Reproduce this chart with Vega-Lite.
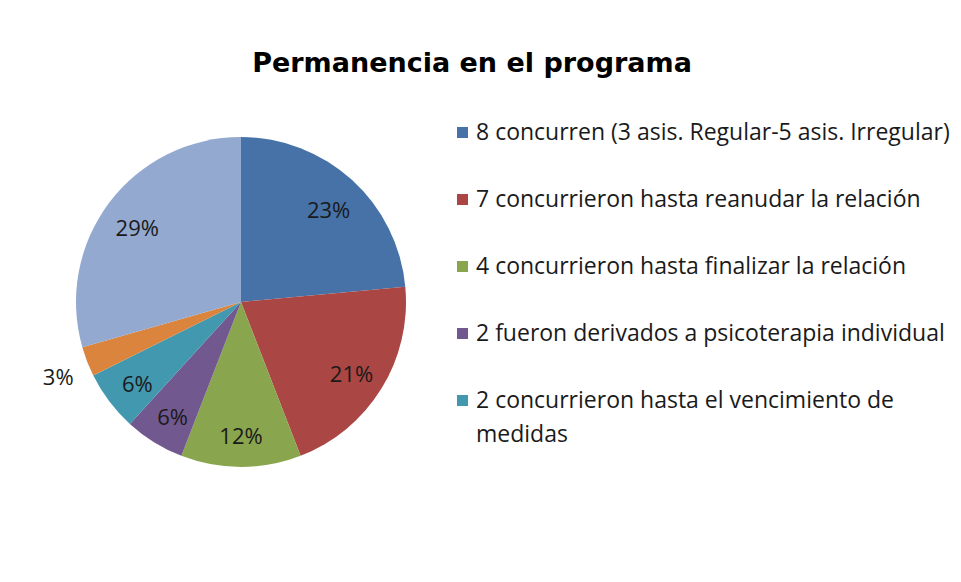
{
  "$schema": "https://vega.github.io/schema/vega-lite/v6.json",
  "autosize": {"type": "none"},
  "padding": {"left": 76, "top": 137, "right": 555, "bottom": 115},
  "width": 330,
  "height": 330,
  "background": "white",
  "config": {
    "view": {"stroke": null},
    "style": {"guide-label": {"lineHeight": 34}}
  },
  "title": {
    "text": "Permanencia en el programa",
    "anchor": "middle",
    "frame": "group",
    "dx": 231,
    "offset": 43,
    "font": "DejaVu Sans",
    "fontSize": 27,
    "fontWeight": "bold",
    "color": "#000000"
  },
  "data": {
    "values": [
      {"orden": 1, "categoria": "8 concurren (3 asis. Regular-5 asis. Irregular)", "n": 8, "etiqueta": "23%"},
      {"orden": 2, "categoria": "7 concurrieron hasta reanudar la relación", "n": 7, "etiqueta": "21%"},
      {"orden": 3, "categoria": "4 concurrieron hasta finalizar la relación", "n": 4, "etiqueta": "12%"},
      {"orden": 4, "categoria": "2 fueron derivados a psicoterapia individual", "n": 2, "etiqueta": "6%"},
      {"orden": 5, "categoria": "2 concurrieron hasta el vencimiento de medidas", "n": 2, "etiqueta": "6%"},
      {"orden": 6, "categoria": "1 otro", "n": 1, "etiqueta": "3%"},
      {"orden": 7, "categoria": "10 otros", "n": 10, "etiqueta": "29%"}
    ]
  },
  "encoding": {
    "theta": {"field": "n", "type": "quantitative", "stack": true},
    "order": {"field": "orden", "type": "quantitative"}
  },
  "layer": [
    {
      "mark": {"type": "arc", "outerRadius": 165},
      "encoding": {
        "color": {
          "field": "categoria",
          "type": "nominal",
          "scale": {
            "domain": [
              "8 concurren (3 asis. Regular-5 asis. Irregular)",
              "7 concurrieron hasta reanudar la relación",
              "4 concurrieron hasta finalizar la relación",
              "2 fueron derivados a psicoterapia individual",
              "2 concurrieron hasta el vencimiento de medidas",
              "1 otro",
              "10 otros"
            ],
            "range": ["#4672A8", "#AA4643", "#89A54E", "#71588F", "#4198AF", "#DB843D", "#93A9CF"]
          },
          "legend": {
            "values": [
              "8 concurren (3 asis. Regular-5 asis. Irregular)",
              "7 concurrieron hasta reanudar la relación",
              "4 concurrieron hasta finalizar la relación",
              "2 fueron derivados a psicoterapia individual",
              "2 concurrieron hasta el vencimiento de medidas"
            ],
            "orient": "none",
            "legendX": 375,
            "legendY": -16,
            "title": null,
            "padding": 0,
            "symbolType": "square",
            "symbolSize": 121,
            "symbolStrokeWidth": 0,
            "labelFont": "Open Sans",
            "labelFontSize": 23,
            "labelColor": "#1a1a1a",
            "labelLimit": 700,
            "labelOffset": 2,
            "rowPadding": 43,
            "labelExpr": "datum.label == '2 concurrieron hasta el vencimiento de medidas' ? ['2 concurrieron hasta el vencimiento de', 'medidas'] : datum.label"
          }
        }
      }
    },
    {
      "mark": {"type": "text", "font": "Open Sans", "fontSize": 22, "color": "#1a1a1a", "dy": 5},
      "encoding": {
        "text": {"field": "etiqueta", "type": "nominal"},
        "detail": {"field": "categoria", "type": "nominal"},
        "radius": {
          "field": "n",
          "type": "quantitative",
          "scale": {"type": "linear", "domain": [1, 2], "range": [196, 130], "clamp": true, "zero": false}
        }
      }
    }
  ]
}
